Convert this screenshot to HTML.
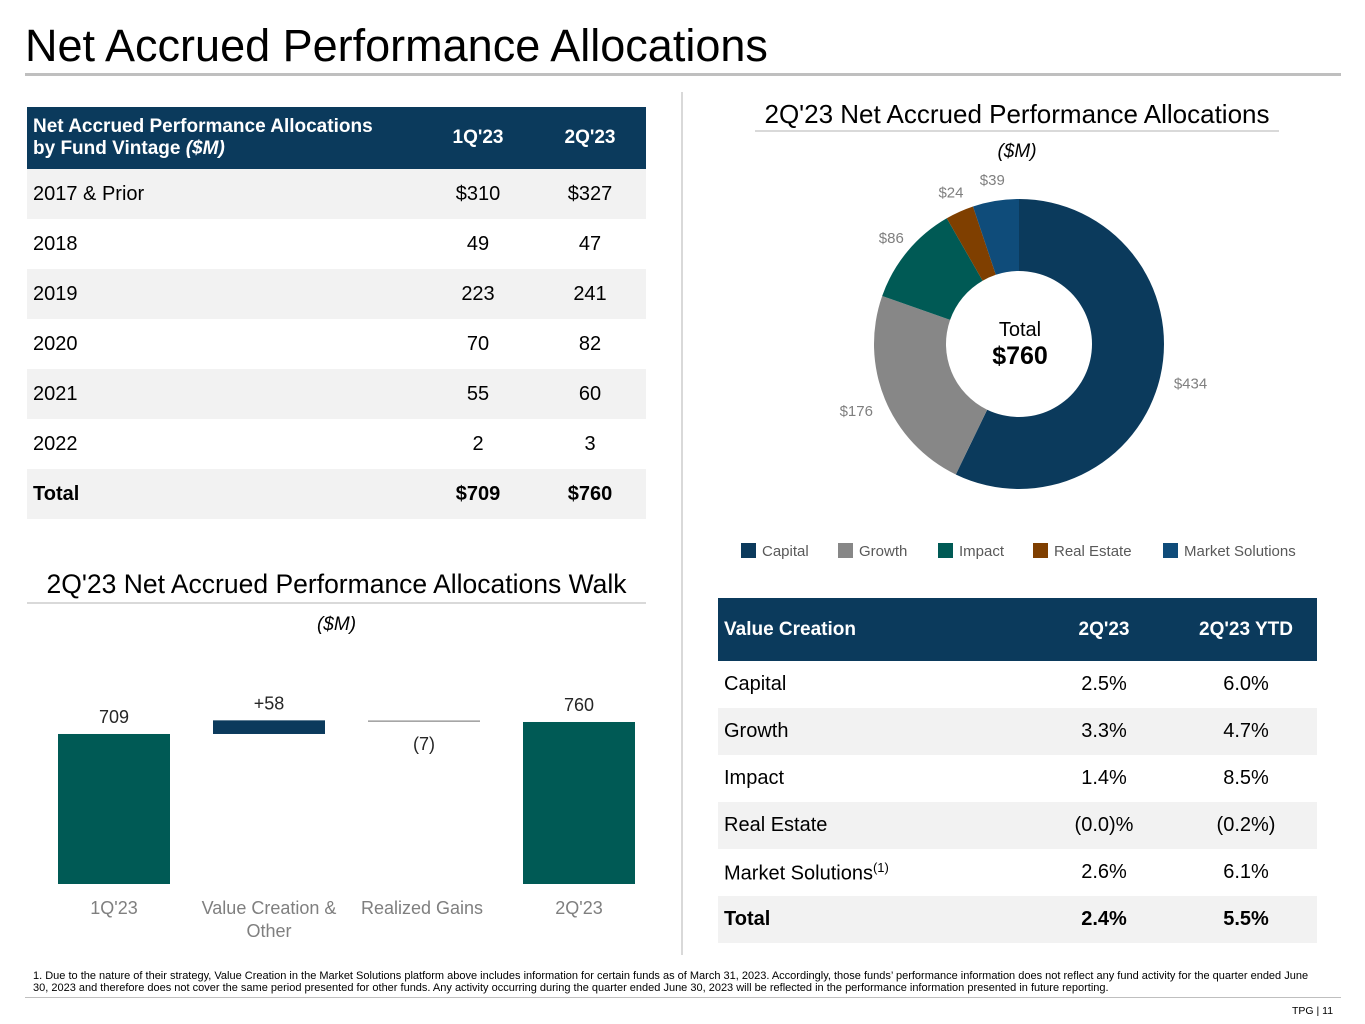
<!DOCTYPE html>
<html><head><meta charset="utf-8"><style>
body{margin:0;width:1365px;height:1024px;background:#fff;font-family:"Liberation Sans",sans-serif;position:relative;overflow:hidden;color:#000}
.abs{position:absolute}
table{border-collapse:collapse;position:absolute}
td{padding:0 6px;font-size:20px}
.h td{background:#0b3a5c;color:#fff;font-weight:bold;font-size:19px}
.s td{background:#f2f2f2}
.c{text-align:center}
</style></head><body>
<div class="abs" style="left:25px;top:20px;font-size:45px">Net Accrued Performance Allocations</div>
<div class="abs" style="left:25px;top:73px;width:1316px;height:3px;background:#bfbfbf"></div>
<div class="abs" style="left:681px;top:92px;width:2px;height:863px;background:#d9d9d9"></div>

<table style="left:27px;top:107px;width:619px">
<tr class="h" style="height:62px"><td>Net Accrued Performance Allocations<br>by Fund Vintage <i>($M)</i></td><td class="c" style="width:100px">1Q'23</td><td class="c" style="width:100px">2Q'23</td></tr>
<tr class="s" style="height:50px"><td>2017 &amp; Prior</td><td class="c">$310</td><td class="c">$327</td></tr>
<tr style="height:50px"><td>2018</td><td class="c">49</td><td class="c">47</td></tr>
<tr class="s" style="height:50px"><td>2019</td><td class="c">223</td><td class="c">241</td></tr>
<tr style="height:50px"><td>2020</td><td class="c">70</td><td class="c">82</td></tr>
<tr class="s" style="height:50px"><td>2021</td><td class="c">55</td><td class="c">60</td></tr>
<tr style="height:50px"><td>2022</td><td class="c">2</td><td class="c">3</td></tr>
<tr class="s" style="height:50px;font-weight:bold"><td><b>Total</b></td><td class="c"><b>$709</b></td><td class="c"><b>$760</b></td></tr>
</table>

<div class="abs" style="left:745px;top:99px;width:544px;text-align:center;font-size:26px">2Q'23 Net Accrued Performance Allocations</div>
<div class="abs" style="left:755px;top:130px;width:524px;height:2px;background:#d9d9d9"></div>
<div class="abs" style="left:755px;top:141px;width:524px;text-align:center;font-size:19px;font-style:italic">($M)</div>
<svg class="abs" id="donut" style="left:0;top:0" width="1365" height="600"></svg>

<div class="abs" style="left:17px;top:569px;width:639px;text-align:center;font-size:26.5px">2Q'23 Net Accrued Performance Allocations Walk</div>
<div class="abs" style="left:27px;top:602px;width:619px;height:2px;background:#d9d9d9"></div>
<div class="abs" style="left:27px;top:614px;width:619px;text-align:center;font-size:19px;font-style:italic">($M)</div>
<svg class="abs" id="walk" style="left:0;top:640px" width="682" height="310"></svg>

<table style="left:718px;top:598px;width:599px">
<tr class="h" style="height:63px"><td>Value Creation</td><td class="c" style="width:130px">2Q'23</td><td class="c" style="width:130px">2Q'23 YTD</td></tr>
<tr style="height:47px"><td>Capital</td><td class="c">2.5%</td><td class="c">6.0%</td></tr>
<tr class="s" style="height:47px"><td>Growth</td><td class="c">3.3%</td><td class="c">4.7%</td></tr>
<tr style="height:47px"><td>Impact</td><td class="c">1.4%</td><td class="c">8.5%</td></tr>
<tr class="s" style="height:47px"><td>Real Estate</td><td class="c">(0.0)%</td><td class="c">(0.2%)</td></tr>
<tr style="height:47px"><td>Market Solutions<sup style="font-size:13px">(1)</sup></td><td class="c">2.6%</td><td class="c">6.1%</td></tr>
<tr class="s" style="height:47px"><td><b>Total</b></td><td class="c"><b>2.4%</b></td><td class="c"><b>5.5%</b></td></tr>
</table>

<div class="abs" style="left:33px;top:970px;width:1292px;font-size:11px;line-height:12px">1. Due to the nature of their strategy, Value Creation in the Market Solutions platform above includes information for certain funds as of March 31, 2023. Accordingly, those funds’ performance information does not reflect any fund activity for the quarter ended June 30, 2023 and therefore does not cover the same period presented for other funds. Any activity occurring during the quarter ended June 30, 2023 will be reflected in the performance information presented in future reporting.</div>
<div class="abs" style="left:25px;top:997px;width:1316px;height:1px;background:#bfbfbf"></div>
<div class="abs" style="left:1292px;top:1005px;font-size:10.5px">TPG | 11</div>

<script>
const NS="http://www.w3.org/2000/svg";
const segNames=["Capital","Growth","Impact","Real Estate","Market Solutions"];
const segValues=[434,176,86,24,39];
const segLabels=["$434","$176","$86","$24","$39"];
const totalLabel="$760";
const segColors=["#0b3a5c","#878787","#005a55","#7f3f00","#0f4c7a"];
function mk(p,t,a){const e=document.createElementNS(NS,t);for(const k in a)e.setAttribute(k,a[k]);p.appendChild(e);return e;}
(function(){
 const svg=document.getElementById('donut');
 const cx=1019,cy=344,R=145,r=73,tot=segValues.reduce((a,b)=>a+b,0);
 let acc=0;
 const pt=(ang,rad)=>[cx+rad*Math.sin(ang),cy-rad*Math.cos(ang)];
 segValues.forEach((v,i)=>{
  const a0=acc/tot*2*Math.PI,a1=(acc+v)/tot*2*Math.PI;acc+=v;
  const lg=(a1-a0)>Math.PI?1:0;
  const [x0,y0]=pt(a0,R),[x1,y1]=pt(a1,R),[x2,y2]=pt(a1,r),[x3,y3]=pt(a0,r);
  const p=mk(svg,'path',{d:`M${x0},${y0}A${R},${R} 0 ${lg} 1 ${x1},${y1}L${x2},${y2}A${r},${r} 0 ${lg} 0 ${x3},${y3}Z`,fill:segColors[i]});
  
  
  const am=(a0+a1)/2,lr=v<100?166:176;const [lx,ly]=pt(am,lr);
  const t=mk(svg,'text',{x:lx,y:ly+5,'text-anchor':'middle','font-size':15,fill:'#7f7f7f'});t.textContent=segLabels[i];
  
  
 });
 let t=mk(svg,'text',{x:cx+1,y:336,'text-anchor':'middle','font-size':20});t.textContent='Total';
 
 
 t=mk(svg,'text',{x:cx+1,y:364,'text-anchor':'middle','font-size':25,'font-weight':'bold'});t.textContent=totalLabel;
 
 
 const lx=[741,838,938,1033,1163];
 segNames.forEach((n,i)=>{
  const g=mk(svg,'g',{});
  
  
  mk(g,'rect',{x:lx[i],y:543,width:15,height:15,fill:segColors[i]});
  const tt=mk(g,'text',{x:lx[i]+21,y:556,'font-size':15,fill:'#595959'});tt.textContent=n;
 });
})();

const walkCats=["1Q'23","Value Creation & Other","Realized Gains","2Q'23"];
const walkValues=[709,58,-7,760];
const walkLabels=["709","+58","(7)","760"];
(function(){
 const svg=document.getElementById('walk');
 const yMin=71,yMax=780,top0=(722-640)-(780-760)*0.2353;
 const y=v=>244-(v-yMin)*(244-top0)/(yMax-yMin);
 const cxs=[114,269,424,579],bw=112;
 let run=0;
 walkValues.forEach((v,i)=>{
  let a,b,col;
  if(i===0||i===walkValues.length-1){a=yMin;b=v;run=v;col='#005a55';}
  else{a=run;b=run+v;run=b;col=v>=0?'#0b3a5c':'#a6a6a6';}
  const y0=y(Math.max(a,b)),y1=y(Math.min(a,b));
  const rc=mk(svg,'rect',{x:cxs[i]-bw/2,y:y0,width:bw,height:Math.max(y1-y0,1.5),fill:col});
  
  
  const neg=v<0;
  const t=mk(svg,'text',{x:cxs[i],y:neg?y1+28:y0-11,'text-anchor':'middle','font-size':18,fill:'#262626'});t.textContent=walkLabels[i];
  
  
  const words=walkCats[i]==="Value Creation & Other"?["Value Creation &","Other"]:[walkCats[i]];
  words.forEach((w,j)=>{const tl=mk(svg,'text',{x:cxs[i]-(i===2?2:0),y:274+j*23,'text-anchor':'middle','font-size':18,fill:'#7f7f7f'});tl.textContent=w;
   
   });
 });
})();
</script>
</body></html>
